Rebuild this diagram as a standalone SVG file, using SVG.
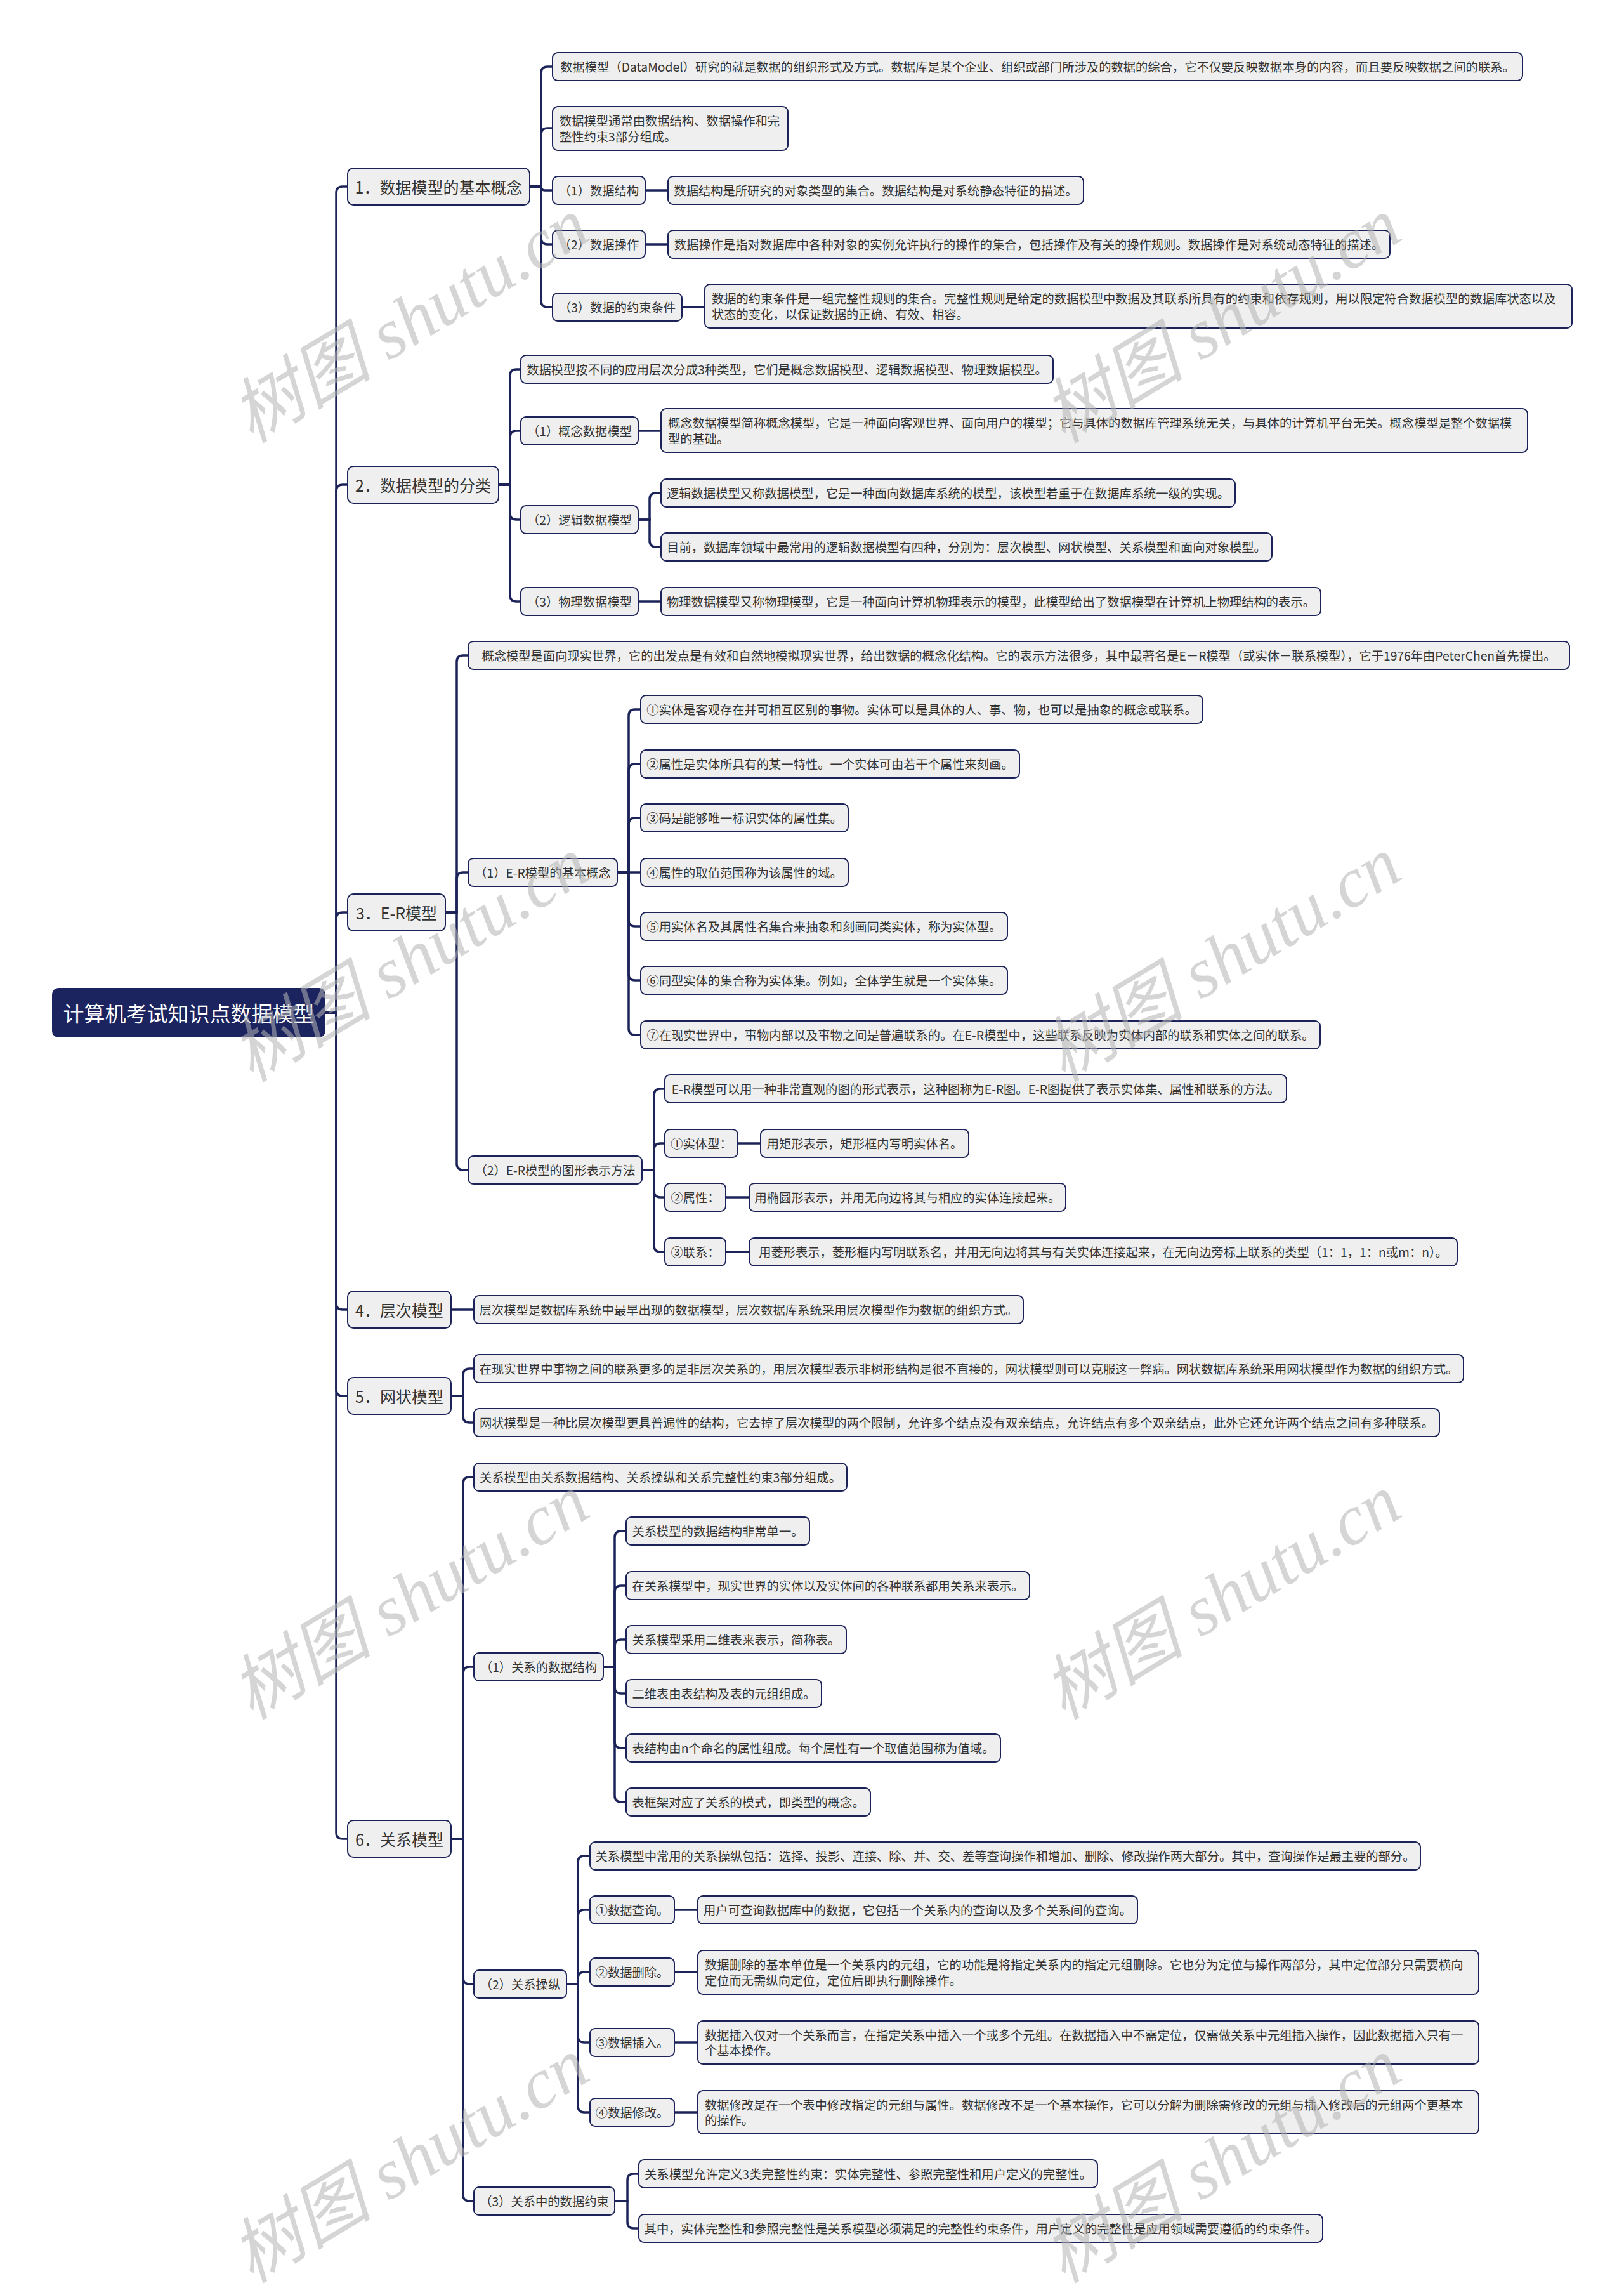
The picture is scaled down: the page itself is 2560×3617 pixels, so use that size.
<svg xmlns="http://www.w3.org/2000/svg" width="2560" height="3617" viewBox="0 0 2560 3617">
<style>
.n rect{fill:#efefef;stroke:#1c2358;stroke-width:2}
.t{font-family:"Noto Sans CJK SC","Noto Sans",sans-serif;font-size:19.3px;fill:#333;dominant-baseline:central}
.m{text-anchor:middle}
.l1{font-size:25px}
.r rect{fill:#1c2460;stroke:#1c2460;stroke-width:2}
.r text{fill:#fff;font-size:33px}
#connectors path{fill:none;stroke:#1c2358;stroke-width:3.5}
.wm{font-family:"Liberation Serif","Noto Sans CJK SC",serif;font-style:italic;font-size:112px;fill:#b4b4b4;opacity:0.55;text-anchor:middle;dominant-baseline:central}
</style>
<rect width="2560" height="3617" fill="#ffffff"/>
<g id="connectors">
<path d="M512 1596H530V304Q530 294 540 294H548"/>
<path d="M512 1596H530V774Q530 764 540 764H548"/>
<path d="M512 1596H530V1448Q530 1438 540 1438H548"/>
<path d="M512 1596H530V2054Q530 2064 540 2064H548"/>
<path d="M512 1596H530V2190Q530 2200 540 2200H548"/>
<path d="M512 1596H530V2888Q530 2898 540 2898H548"/>
<path d="M835 294H853V115Q853 105 863 105H871"/>
<path d="M835 294H853V212Q853 202 863 202H871"/>
<path d="M835 294H853V294Q853 300 859 300H871"/>
<path d="M835 294H853V375Q853 385 863 385H871"/>
<path d="M835 294H853V474Q853 484 863 484H871"/>
<path d="M1017 300H1053"/>
<path d="M1017 385H1053"/>
<path d="M1075 484H1111"/>
<path d="M786 764H804V592Q804 582 814 582H821"/>
<path d="M786 764H804V689Q804 679 814 679H821"/>
<path d="M786 764H804V809Q804 819 814 819H821"/>
<path d="M786 764H804V938Q804 948 814 948H821"/>
<path d="M1006 679H1042"/>
<path d="M1006 819H1024V787Q1024 777 1034 777H1042"/>
<path d="M1006 819H1024V852Q1024 862 1034 862H1042"/>
<path d="M1006 948H1042"/>
<path d="M702 1438H720V1043Q720 1033 730 1033H738"/>
<path d="M702 1438H720V1385Q720 1375 730 1375H738"/>
<path d="M702 1438H720V1834Q720 1844 730 1844H738"/>
<path d="M973 1375H991V1128Q991 1118 1001 1118H1010"/>
<path d="M973 1375H991V1214Q991 1204 1001 1204H1010"/>
<path d="M973 1375H991V1299Q991 1289 1001 1289H1010"/>
<path d="M973 1375H1010"/>
<path d="M973 1375H991V1450Q991 1460 1001 1460H1010"/>
<path d="M973 1375H991V1535Q991 1545 1001 1545H1010"/>
<path d="M973 1375H991V1621Q991 1631 1001 1631H1010"/>
<path d="M1012 1844H1031V1726Q1031 1716 1041 1716H1048"/>
<path d="M1012 1844H1031V1812Q1031 1802 1041 1802H1048"/>
<path d="M1012 1844H1031V1877Q1031 1887 1041 1887H1048"/>
<path d="M1012 1844H1031V1963Q1031 1973 1041 1973H1048"/>
<path d="M1163 1802H1199"/>
<path d="M1144 1887H1181"/>
<path d="M1144 1973H1181"/>
<path d="M711 2064H747"/>
<path d="M711 2200H730V2167Q730 2157 740 2157H747"/>
<path d="M711 2200H730V2232Q730 2242 740 2242H747"/>
<path d="M711 2898H730V2338Q730 2328 740 2328H747"/>
<path d="M711 2898H730V2637Q730 2627 740 2627H747"/>
<path d="M711 2898H730V3117Q730 3127 740 3127H747"/>
<path d="M711 2898H730V3459Q730 3469 740 3469H747"/>
<path d="M951 2627H969V2423Q969 2413 979 2413H987"/>
<path d="M951 2627H969V2509Q969 2499 979 2499H987"/>
<path d="M951 2627H969V2594Q969 2584 979 2584H987"/>
<path d="M951 2627H969V2659Q969 2669 979 2669H987"/>
<path d="M951 2627H969V2745Q969 2755 979 2755H987"/>
<path d="M951 2627H969V2830Q969 2840 979 2840H987"/>
<path d="M893 3127H911V2935Q911 2925 921 2925H930"/>
<path d="M893 3127H911V3020Q911 3010 921 3010H930"/>
<path d="M893 3127H911V3118Q911 3108 921 3108H930"/>
<path d="M893 3127H911V3209Q911 3219 921 3219H930"/>
<path d="M893 3127H911V3319Q911 3329 921 3329H930"/>
<path d="M1063 3010H1100"/>
<path d="M1063 3108H1100"/>
<path d="M1063 3219H1100"/>
<path d="M1063 3329H1100"/>
<path d="M969 3469H989V3436Q989 3426 999 3426H1007"/>
<path d="M969 3469H989V3502Q989 3512 999 3512H1007"/>
</g>

<g id="root" class="r"><rect x="83" y="1558" width="429" height="76" rx="9"/><text class="t m" x="297.5" y="1596">计算机考试知识点数据模型</text></g>

<g id="n1" class="n"><rect x="548" y="265" width="287" height="58" rx="9"/><text class="t m l1" x="691.5" y="294">1．数据模型的基本概念</text></g>
<g id="n1a" class="n"><rect x="871" y="83" width="1529" height="44" rx="8"/><text class="t m" x="1635.5" y="105">数据模型（DataModel）研究的就是数据的组织形式及方式。数据库是某个企业、组织或部门所涉及的数据的综合，它不仅要反映数据本身的内容，而且要反映数据之间的联系。</text></g>
<g id="n1b" class="n"><rect x="871" y="168" width="371" height="69" rx="8"/><text class="t"><tspan x="882" y="190">数据模型通常由数据结构、数据操作和完</tspan><tspan x="882" y="215">整性约束3部分组成。</tspan></text></g>
<g id="n1c" class="n"><rect x="871" y="278" width="146" height="44" rx="8"/><text class="t m" x="944" y="300">（1）数据结构</text></g>
<g id="n1c1" class="n"><rect x="1053" y="278" width="655" height="44" rx="8"/><text class="t m" x="1380.5" y="300">数据结构是所研究的对象类型的集合。数据结构是对系统静态特征的描述。</text></g>
<g id="n1d" class="n"><rect x="871" y="363" width="146" height="44" rx="8"/><text class="t m" x="944" y="385">（2）数据操作</text></g>
<g id="n1d1" class="n"><rect x="1053" y="363" width="1138" height="44" rx="8"/><text class="t m" x="1622" y="385">数据操作是指对数据库中各种对象的实例允许执行的操作的集合，包括操作及有关的操作规则。数据操作是对系统动态特征的描述。</text></g>
<g id="n1e" class="n"><rect x="871" y="462" width="204" height="44" rx="8"/><text class="t m" x="973" y="484">（3）数据的约束条件</text></g>
<g id="n1e1" class="n"><rect x="1111" y="448" width="1367" height="69" rx="8"/><text class="t"><tspan x="1122" y="470">数据的约束条件是一组完整性规则的集合。完整性规则是给定的数据模型中数据及其联系所具有的约束和依存规则，用以限定符合数据模型的数据库状态以及</tspan><tspan x="1122" y="495">状态的变化，以保证数据的正确、有效、相容。</tspan></text></g>

<g id="n2" class="n"><rect x="548" y="735" width="238" height="58" rx="9"/><text class="t m l1" x="667" y="764">2．数据模型的分类</text></g>
<g id="n2a" class="n"><rect x="821" y="560" width="839" height="44" rx="8"/><text class="t m" x="1240.5" y="582">数据模型按不同的应用层次分成3种类型，它们是概念数据模型、逻辑数据模型、物理数据模型。</text></g>
<g id="n2b" class="n"><rect x="821" y="657" width="185" height="44" rx="8"/><text class="t m" x="913.5" y="679">（1）概念数据模型</text></g>
<g id="n2b1" class="n"><rect x="1042" y="644" width="1366" height="69" rx="8"/><text class="t"><tspan x="1053" y="666">概念数据模型简称概念模型，它是一种面向客观世界、面向用户的模型；它与具体的数据库管理系统无关，与具体的计算机平台无关。概念模型是整个数据模</tspan><tspan x="1053" y="691">型的基础。</tspan></text></g>
<g id="n2c" class="n"><rect x="821" y="797" width="185" height="44" rx="8"/><text class="t m" x="913.5" y="819">（2）逻辑数据模型</text></g>
<g id="n2c1" class="n"><rect x="1042" y="755" width="905" height="44" rx="8"/><text class="t m" x="1494.5" y="777">逻辑数据模型又称数据模型，它是一种面向数据库系统的模型，该模型着重于在数据库系统一级的实现。</text></g>
<g id="n2c2" class="n"><rect x="1042" y="840" width="963" height="44" rx="8"/><text class="t m" x="1523.5" y="862">目前，数据库领域中最常用的逻辑数据模型有四种，分别为：层次模型、网状模型、关系模型和面向对象模型。</text></g>
<g id="n2d" class="n"><rect x="821" y="926" width="185" height="44" rx="8"/><text class="t m" x="913.5" y="948">（3）物理数据模型</text></g>
<g id="n2d1" class="n"><rect x="1042" y="926" width="1040" height="44" rx="8"/><text class="t m" x="1562" y="948">物理数据模型又称物理模型，它是一种面向计算机物理表示的模型，此模型给出了数据模型在计算机上物理结构的表示。</text></g>

<g id="n3" class="n"><rect x="548" y="1409" width="154" height="58" rx="9"/><text class="t m l1" x="625" y="1438">3．E-R模型</text></g>
<g id="n3a" class="n"><rect x="738" y="1011" width="1736" height="44" rx="8"/><text class="t m" x="1606" y="1033">概念模型是面向现实世界，它的出发点是有效和自然地模拟现实世界，给出数据的概念化结构。它的表示方法很多，其中最著名是E－R模型（或实体－联系模型），它于1976年由PeterChen首先提出。</text></g>
<g id="n3b" class="n"><rect x="738" y="1353" width="235" height="44" rx="8"/><text class="t m" x="855.5" y="1375">（1）E-R模型的基本概念</text></g>
<g id="n3b1" class="n"><rect x="1010" y="1096" width="886" height="44" rx="8"/><text class="t m" x="1453" y="1118">①实体是客观存在并可相互区别的事物。实体可以是具体的人、事、物，也可以是抽象的概念或联系。</text></g>
<g id="n3b2" class="n"><rect x="1010" y="1182" width="597" height="44" rx="8"/><text class="t m" x="1308.5" y="1204">②属性是实体所具有的某一特性。一个实体可由若干个属性来刻画。</text></g>
<g id="n3b3" class="n"><rect x="1010" y="1267" width="327" height="44" rx="8"/><text class="t m" x="1173.5" y="1289">③码是能够唯一标识实体的属性集。</text></g>
<g id="n3b4" class="n"><rect x="1010" y="1353" width="327" height="44" rx="8"/><text class="t m" x="1173.5" y="1375">④属性的取值范围称为该属性的域。</text></g>
<g id="n3b5" class="n"><rect x="1010" y="1438" width="578" height="44" rx="8"/><text class="t m" x="1299" y="1460">⑤用实体名及其属性名集合来抽象和刻画同类实体，称为实体型。</text></g>
<g id="n3b6" class="n"><rect x="1010" y="1523" width="578" height="44" rx="8"/><text class="t m" x="1299" y="1545">⑥同型实体的集合称为实体集。例如，全体学生就是一个实体集。</text></g>
<g id="n3b7" class="n"><rect x="1010" y="1609" width="1071" height="44" rx="8"/><text class="t m" x="1545.5" y="1631">⑦在现实世界中，事物内部以及事物之间是普遍联系的。在E-R模型中，这些联系反映为实体内部的联系和实体之间的联系。</text></g>
<g id="n3c" class="n"><rect x="738" y="1822" width="274" height="44" rx="8"/><text class="t m" x="875" y="1844">（2）E-R模型的图形表示方法</text></g>
<g id="n3c1" class="n"><rect x="1048" y="1694" width="980" height="44" rx="8"/><text class="t m" x="1538" y="1716">E-R模型可以用一种非常直观的图的形式表示，这种图称为E-R图。E-R图提供了表示实体集、属性和联系的方法。</text></g>
<g id="n3c2" class="n"><rect x="1048" y="1780" width="115" height="44" rx="8"/><text class="t m" x="1105.5" y="1802">①实体型：</text></g>
<g id="n3c2a" class="n"><rect x="1199" y="1780" width="328" height="44" rx="8"/><text class="t m" x="1363" y="1802">用矩形表示，矩形框内写明实体名。</text></g>
<g id="n3c3" class="n"><rect x="1048" y="1865" width="96" height="44" rx="8"/><text class="t m" x="1096" y="1887">②属性：</text></g>
<g id="n3c3a" class="n"><rect x="1181" y="1865" width="499" height="44" rx="8"/><text class="t m" x="1430.5" y="1887">用椭圆形表示，并用无向边将其与相应的实体连接起来。</text></g>
<g id="n3c4" class="n"><rect x="1048" y="1951" width="96" height="44" rx="8"/><text class="t m" x="1096" y="1973">③联系：</text></g>
<g id="n3c4a" class="n"><rect x="1181" y="1951" width="1116" height="44" rx="8"/><text class="t m" x="1739" y="1973">用菱形表示，菱形框内写明联系名，并用无向边将其与有关实体连接起来，在无向边旁标上联系的类型（1：1，1：n或m：n）。</text></g>

<g id="n4" class="n"><rect x="548" y="2035" width="163" height="58" rx="9"/><text class="t m l1" x="629.5" y="2064">4．层次模型</text></g>
<g id="n4a" class="n"><rect x="747" y="2042" width="866" height="44" rx="8"/><text class="t m" x="1180" y="2064">层次模型是数据库系统中最早出现的数据模型，层次数据库系统采用层次模型作为数据的组织方式。</text></g>

<g id="n5" class="n"><rect x="548" y="2171" width="163" height="58" rx="9"/><text class="t m l1" x="629.5" y="2200">5．网状模型</text></g>
<g id="n5a" class="n"><rect x="747" y="2135" width="1560" height="44" rx="8"/><text class="t m" x="1527" y="2157">在现实世界中事物之间的联系更多的是非层次关系的，用层次模型表示非树形结构是很不直接的，网状模型则可以克服这一弊病。网状数据库系统采用网状模型作为数据的组织方式。</text></g>
<g id="n5b" class="n"><rect x="747" y="2220" width="1522" height="44" rx="8"/><text class="t m" x="1508" y="2242">网状模型是一种比层次模型更具普遍性的结构，它去掉了层次模型的两个限制，允许多个结点没有双亲结点，允许结点有多个双亲结点，此外它还允许两个结点之间有多种联系。</text></g>

<g id="n6" class="n"><rect x="548" y="2869" width="163" height="58" rx="9"/><text class="t m l1" x="629.5" y="2898">6．关系模型</text></g>
<g id="n6a" class="n"><rect x="747" y="2306" width="588" height="44" rx="8"/><text class="t m" x="1041" y="2328">关系模型由关系数据结构、关系操纵和关系完整性约束3部分组成。</text></g>
<g id="n6b" class="n"><rect x="747" y="2605" width="204" height="44" rx="8"/><text class="t m" x="849" y="2627">（1）关系的数据结构</text></g>
<g id="n6b1" class="n"><rect x="987" y="2391" width="289" height="44" rx="8"/><text class="t m" x="1131.5" y="2413">关系模型的数据结构非常单一。</text></g>
<g id="n6b2" class="n"><rect x="987" y="2477" width="636" height="44" rx="8"/><text class="t m" x="1305" y="2499">在关系模型中，现实世界的实体以及实体间的各种联系都用关系来表示。</text></g>
<g id="n6b3" class="n"><rect x="987" y="2562" width="347" height="44" rx="8"/><text class="t m" x="1160.5" y="2584">关系模型采用二维表来表示，简称表。</text></g>
<g id="n6b4" class="n"><rect x="987" y="2647" width="308" height="44" rx="8"/><text class="t m" x="1141" y="2669">二维表由表结构及表的元组组成。</text></g>
<g id="n6b5" class="n"><rect x="987" y="2733" width="590" height="44" rx="8"/><text class="t m" x="1282" y="2755">表结构由n个命名的属性组成。每个属性有一个取值范围称为值域。</text></g>
<g id="n6b6" class="n"><rect x="987" y="2818" width="385" height="44" rx="8"/><text class="t m" x="1179.5" y="2840">表框架对应了关系的模式，即类型的概念。</text></g>
<g id="n6c" class="n"><rect x="747" y="3105" width="146" height="44" rx="8"/><text class="t m" x="820" y="3127">（2）关系操纵</text></g>
<g id="n6c0" class="n"><rect x="930" y="2903" width="1309" height="44" rx="8"/><text class="t m" x="1584.5" y="2925">关系模型中常用的关系操纵包括：选择、投影、连接、除、并、交、差等查询操作和增加、删除、修改操作两大部分。其中，查询操作是最主要的部分。</text></g>
<g id="n6c1" class="n"><rect x="930" y="2988" width="133" height="44" rx="8"/><text class="t m" x="996.5" y="3010">①数据查询。</text></g>
<g id="n6c1a" class="n"><rect x="1100" y="2988" width="693" height="44" rx="8"/><text class="t m" x="1446.5" y="3010">用户可查询数据库中的数据，它包括一个关系内的查询以及多个关系间的查询。</text></g>
<g id="n6c2" class="n"><rect x="930" y="3086" width="133" height="44" rx="8"/><text class="t m" x="996.5" y="3108">②数据删除。</text></g>
<g id="n6c2a" class="n"><rect x="1100" y="3074" width="1231" height="69" rx="8"/><text class="t"><tspan x="1111" y="3096">数据删除的基本单位是一个关系内的元组，它的功能是将指定关系内的指定元组删除。它也分为定位与操作两部分，其中定位部分只需要横向</tspan><tspan x="1111" y="3121">定位而无需纵向定位，定位后即执行删除操作。</tspan></text></g>
<g id="n6c3" class="n"><rect x="930" y="3197" width="133" height="44" rx="8"/><text class="t m" x="996.5" y="3219">③数据插入。</text></g>
<g id="n6c3a" class="n"><rect x="1100" y="3185" width="1231" height="68" rx="8"/><text class="t"><tspan x="1111" y="3207">数据插入仅对一个关系而言，在指定关系中插入一个或多个元组。在数据插入中不需定位，仅需做关系中元组插入操作，因此数据插入只有一</tspan><tspan x="1111" y="3231">个基本操作。</tspan></text></g>
<g id="n6c4" class="n"><rect x="930" y="3307" width="133" height="44" rx="8"/><text class="t m" x="996.5" y="3329">④数据修改。</text></g>
<g id="n6c4a" class="n"><rect x="1100" y="3295" width="1231" height="68" rx="8"/><text class="t"><tspan x="1111" y="3317">数据修改是在一个表中修改指定的元组与属性。数据修改不是一个基本操作，它可以分解为删除需修改的元组与插入修改后的元组两个更基本</tspan><tspan x="1111" y="3341">的操作。</tspan></text></g>
<g id="n6d" class="n"><rect x="747" y="3447" width="222" height="44" rx="8"/><text class="t m" x="858" y="3469">（3）关系中的数据约束</text></g>
<g id="n6d1" class="n"><rect x="1007" y="3404" width="723" height="44" rx="8"/><text class="t m" x="1368.5" y="3426">关系模型允许定义3类完整性约束：实体完整性、参照完整性和用户定义的完整性。</text></g>
<g id="n6d2" class="n"><rect x="1007" y="3490" width="1078" height="44" rx="8"/><text class="t m" x="1546" y="3512">其中，实体完整性和参照完整性是关系模型必须满足的完整性约束条件，用户定义的完整性是应用领域需要遵循的约束条件。</text></g>

<g id="watermarks">
<text class="wm" transform="translate(646 505) rotate(-31)">树图 shutu.cn</text>
<text class="wm" transform="translate(1926 505) rotate(-31)">树图 shutu.cn</text>
<text class="wm" transform="translate(646 1512) rotate(-31)">树图 shutu.cn</text>
<text class="wm" transform="translate(1926 1512) rotate(-31)">树图 shutu.cn</text>
<text class="wm" transform="translate(646 2517) rotate(-31)">树图 shutu.cn</text>
<text class="wm" transform="translate(1926 2517) rotate(-31)">树图 shutu.cn</text>
<text class="wm" transform="translate(646 3405) rotate(-31)">树图 shutu.cn</text>
<text class="wm" transform="translate(1926 3405) rotate(-31)">树图 shutu.cn</text>
</g>
</svg>
